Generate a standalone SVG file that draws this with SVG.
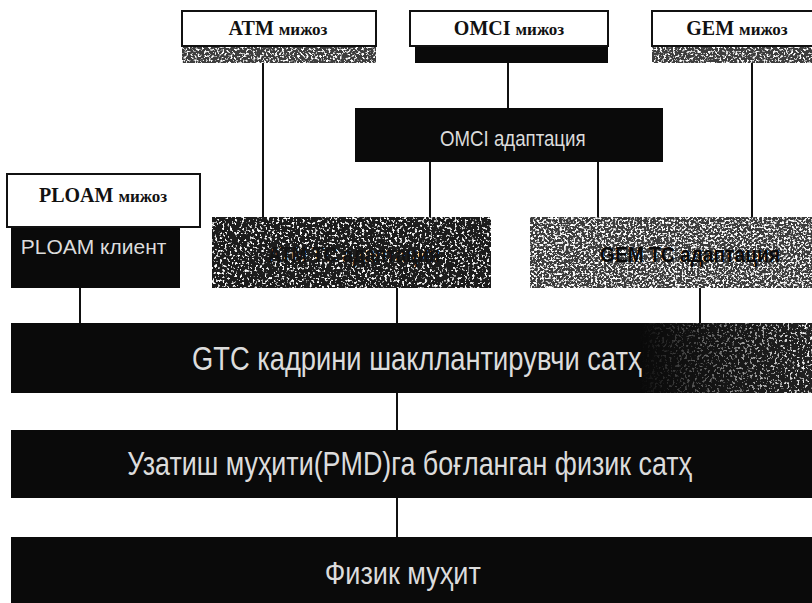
<svg xmlns="http://www.w3.org/2000/svg" width="812" height="603" viewBox="0 0 812 603">
<style>
.wbox{fill:#fff;stroke:#111;stroke-width:2}
.blk{fill:#0a0a0a}
.lbl{font-family:"Liberation Serif",serif;font-weight:bold;font-size:20px;fill:#111;text-anchor:middle}
.sm{font-size:17px}
.inv{font-family:"Liberation Sans",Arial,sans-serif;fill:#dcdcdc}
.conn line{stroke:#111;stroke-width:2}
</style>
<defs>
<filter id="spkMid" x="0" y="0" width="1" height="1">
<feTurbulence type="fractalNoise" baseFrequency="0.45" numOctaves="2" seed="7" result="t"/>
<feColorMatrix in="t" type="matrix" values="0 0 0 0 1  0 0 0 0 1  0 0 0 0 1  7 0 0 0 -3.7" result="w"/>
<feComposite in="w" in2="SourceAlpha" operator="in" result="wc"/>
<feMerge><feMergeNode in="SourceGraphic"/><feMergeNode in="wc"/></feMerge>
</filter>
<filter id="spkDark" x="0" y="0" width="1" height="1">
<feTurbulence type="fractalNoise" baseFrequency="0.4" numOctaves="2" seed="3" result="t"/>
<feColorMatrix in="t" type="matrix" values="0 0 0 0 1  0 0 0 0 1  0 0 0 0 1  7 0 0 0 -4.0" result="w"/>
<feComposite in="w" in2="SourceAlpha" operator="in" result="wc"/>
<feMerge><feMergeNode in="SourceGraphic"/><feMergeNode in="wc"/></feMerge>
</filter>
<filter id="spkLight" x="0" y="0" width="1" height="1">
<feTurbulence type="fractalNoise" baseFrequency="0.45" numOctaves="2" seed="11" result="t"/>
<feColorMatrix in="t" type="matrix" values="0 0 0 0 1  0 0 0 0 1  0 0 0 0 1  7 0 0 0 -3.55" result="w"/>
<feComposite in="w" in2="SourceAlpha" operator="in" result="wc"/>
<feMerge><feMergeNode in="SourceGraphic"/><feMergeNode in="wc"/></feMerge>
</filter>
<linearGradient id="fadeG" x1="0" y1="0" x2="1" y2="0">
<stop offset="0" stop-color="#fff" stop-opacity="0"/>
<stop offset="1" stop-color="#fff" stop-opacity="1"/>
</linearGradient>
<mask id="fadeM" maskUnits="userSpaceOnUse" x="0" y="0" width="812" height="603">
<rect x="640" y="323" width="172" height="70" fill="url(#fadeG)"/>
</mask>
</defs>
<rect width="812" height="603" fill="#fff"/>

<g class="conn" id="connectors">
<line x1="263" y1="63" x2="263" y2="217"/>
<line x1="508" y1="63" x2="508" y2="108"/>
<line x1="752" y1="63" x2="752" y2="217"/>
<line x1="430" y1="162" x2="430" y2="217"/>
<line x1="598" y1="162" x2="598" y2="217"/>
<line x1="80" y1="288" x2="80" y2="323"/>
<line x1="397" y1="288" x2="397" y2="323"/>
<line x1="700" y1="288" x2="700" y2="323"/>
<line x1="397" y1="393" x2="397" y2="430"/>
<line x1="397" y1="498" x2="397" y2="537"/>
</g>

<g id="atm-client">
<rect x="182" y="46" width="194" height="17" fill="#3c3c3c" filter="url(#spkMid)"/>
<rect class="wbox" x="182" y="11" width="194" height="35"/>
<text class="lbl" x="278" y="35">ATM <tspan class="sm">мижоз</tspan></text>
</g>

<g id="omci-client">
<rect class="blk" x="415" y="46" width="193" height="17"/>
<rect class="wbox" x="410" y="11" width="198" height="35"/>
<text class="lbl" x="509" y="35">OMCI <tspan class="sm">мижоз</tspan></text>
</g>

<g id="gem-client">
<rect x="652" y="46" width="160" height="17" fill="#3c3c3c" filter="url(#spkMid)"/>
<rect class="wbox" x="652" y="11" width="170" height="35"/>
<text class="lbl" x="737" y="35">GEM <tspan class="sm">мижоз</tspan></text>
</g>

<g id="omci-adaptation">
<rect class="blk" x="355" y="108" width="308" height="54"/>
<text class="inv" transform="scale(0.8,1)" x="550" y="146" font-size="22" textLength="182" lengthAdjust="spacingAndGlyphs">OMCI адаптация</text>
</g>

<g id="ploam-client">
<rect class="blk" x="11" y="227" width="169" height="61"/>
<rect class="wbox" x="7" y="174" width="193" height="53"/>
<text class="lbl" x="103" y="202">PLOAM <tspan class="sm">мижоз</tspan></text>
<text class="inv" transform="scale(0.8,1)" x="26" y="254" font-size="20" textLength="182" lengthAdjust="spacingAndGlyphs">PLOAM клиент</text>
</g>

<g id="atm-tc">
<rect x="212" y="217" width="279" height="71" fill="#1e1e1e" filter="url(#spkDark)"/>
<text x="268" y="262" font-family="Liberation Sans,Arial,sans-serif" font-size="22" font-weight="bold" fill="#121212" textLength="172" lengthAdjust="spacingAndGlyphs">ATM TC адаптация</text>
</g>

<g id="gem-tc">
<rect x="530" y="217" width="282" height="71" fill="#3a3a3a" filter="url(#spkLight)"/>
<text x="600" y="262" font-family="Liberation Sans,Arial,sans-serif" font-size="22" font-weight="bold" fill="#0a0a0a" textLength="180" lengthAdjust="spacingAndGlyphs">GEM TC адаптация</text>
</g>

<g id="gtc-layer">
<rect class="blk" x="11" y="323" width="801" height="70"/>
<g mask="url(#fadeM)"><rect x="640" y="323" width="172" height="70" fill="#222" filter="url(#spkDark)"/></g>
<text class="inv" transform="scale(0.8,1)" x="240" y="370" font-size="33" textLength="562" lengthAdjust="spacingAndGlyphs">GTC кадрини шакллантирувчи сатҳ</text>
</g>

<g id="pmd-layer">
<rect class="blk" x="11" y="430" width="801" height="68"/>
<text class="inv" transform="scale(0.8,1)" x="159" y="475" font-size="33" textLength="706" lengthAdjust="spacingAndGlyphs">Узатиш муҳити(PMD)га боғланган физик сатҳ</text>
</g>

<g id="physical-medium">
<rect class="blk" x="11" y="537" width="801" height="66"/>
<text class="inv" transform="scale(0.8,1)" x="406" y="584" font-size="31" textLength="195" lengthAdjust="spacingAndGlyphs">Физик муҳит</text>
</g>
</svg>
